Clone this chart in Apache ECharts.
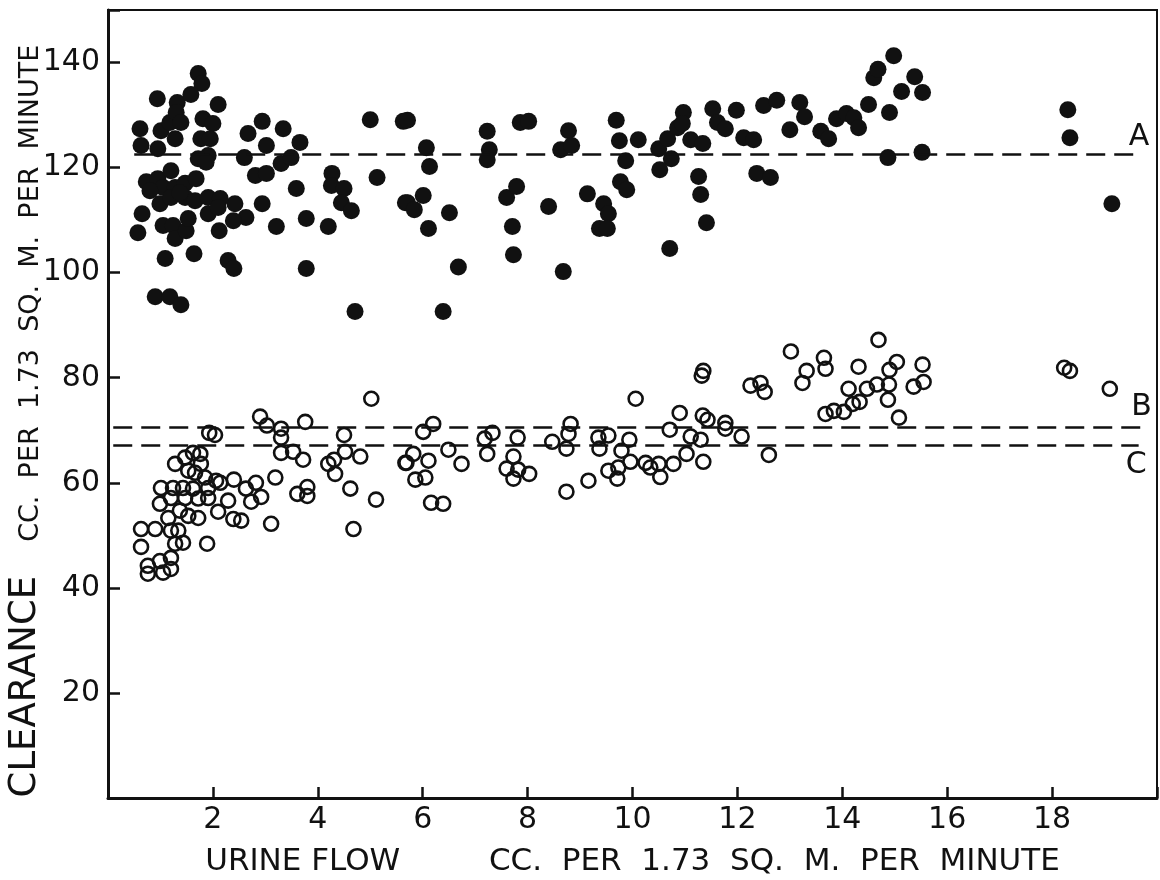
<!DOCTYPE html>
<html>
<head>
<meta charset="utf-8">
<title>Clearance vs urine flow</title>
<script src="https://cdn.jsdelivr.net/npm/echarts@6/dist/echarts.min.js"></script>
<style>
  body { margin: 0; background: #fff; }
</style>
</head>
<body>
<div id="main" style="width:1160px;height:880px;"></div>
<script type="text/javascript">
// filled dots: [urine flow, clearance]
var filledDots = [
  [1.72,137.9],[1.79,136.0],[0.94,133.1],[1.32,132.4],[1.58,133.9],[2.10,132.0],
  [0.61,127.4],[0.63,124.2],[0.95,123.6],[1.01,127.0],[1.18,128.6],[1.30,130.5],
  [1.39,128.6],[1.28,125.5],[1.81,129.3],[2.00,128.4],[1.77,125.5],[1.95,125.5],
  [1.91,122.3],[1.72,121.7],[1.87,121.0],[2.67,126.5],[2.94,128.8],[3.02,124.2],
  [3.34,127.4],[3.66,124.8],[2.60,121.9],[3.30,120.8],[3.49,121.9],[2.81,118.5],
  [3.02,118.9],[3.59,116.0],[4.27,118.9],[4.26,116.6],[4.50,116.0],[4.45,113.3],
  [4.64,111.8],[4.20,108.8],[3.78,110.3],[3.21,108.8],[2.94,113.1],[5.00,129.1],
  [5.13,118.1],[5.63,128.8],[5.67,113.3],[3.78,100.8],[4.71,92.6],[2.42,113.1],
  [2.63,110.5],[2.39,109.9],[2.12,108.0],[2.29,102.3],[2.40,100.8],[1.64,103.6],
  [1.09,102.7],[0.90,95.4],[1.18,95.4],[1.39,93.9],[0.57,107.6],[0.65,111.2],
  [0.73,117.3],[0.95,117.9],[1.20,119.4],[1.05,116.2],[1.28,116.2],[1.47,117.0],
  [1.68,117.9],[0.99,113.1],[1.20,114.3],[1.47,114.3],[1.66,113.7],[1.91,114.3],
  [2.14,114.1],[1.91,111.2],[2.10,112.4],[1.05,109.0],[1.24,109.0],[1.28,106.5],
  [1.49,108.0],[1.53,110.3],[1.37,115.2],[0.80,115.6],
  [5.71,129.0],[6.07,123.8],[6.13,120.2],[5.71,113.3],[5.84,112.0],[6.01,114.7],
  [6.11,108.4],[6.51,111.4],[6.68,101.1],[6.39,92.6],[7.23,126.9],[7.27,123.4],
  [7.23,121.5],[7.60,114.3],[7.79,116.4],[7.71,108.8],[7.73,103.4],[7.86,128.6],
  [8.02,128.8],[8.40,112.6],[8.68,100.2],[8.63,123.4],[8.78,127.0],[8.84,124.2],
  [9.14,115.0],[9.45,113.1],[9.54,111.2],[9.37,108.4],[9.52,108.4],[9.69,129.0],
  [9.75,125.1],[9.87,121.3],[9.77,117.3],[9.89,115.8],[10.11,125.3],[10.50,123.6],
  [10.67,125.5],[10.74,121.7],[10.52,119.6],[10.86,127.6],[10.97,130.5],[10.95,128.4],
  [11.11,125.3],[11.34,124.6],[10.71,104.6],[11.26,118.3],[11.30,114.9],[11.41,109.5],
  [11.53,131.2],[11.62,128.6],[11.77,127.4],[11.98,130.9],[12.12,125.7],[12.31,125.3],
  [12.37,118.9],[12.63,118.1],[12.50,131.8],[12.75,132.8],[13.00,127.2],[13.19,132.4],
  [13.28,129.7],[13.59,126.9],[13.74,125.5],[13.89,129.3],[14.08,130.3],[14.22,129.5],
  [14.31,127.6],[14.50,132.0],[14.60,137.1],[14.68,138.7],[14.98,141.3],[14.90,130.5],
  [15.13,134.5],[15.38,137.3],[15.53,134.3],[14.87,121.9],[15.52,122.9],[18.30,131.0],
  [18.34,125.7],[19.14,113.1]
];

// open circles: [urine flow, clearance]
var openCircles = [
  [5.02,76.0],[2.90,72.6],[3.03,70.9],[3.30,70.3],[3.30,68.6],[3.76,71.6],
  [1.93,69.5],[2.04,69.1],[3.30,65.7],[3.53,65.9],[3.72,64.4],[4.50,69.1],
  [4.52,65.9],[4.81,65.0],[4.20,63.6],[4.31,64.4],[4.33,61.7],[5.67,63.8],
  [3.19,61.0],[2.82,60.0],[2.40,60.6],[3.80,59.2],[3.61,57.9],[3.80,57.5],
  [4.62,58.9],[5.11,56.8],[4.68,51.2],[3.11,52.2],[2.39,53.1],[2.54,52.8],
  [1.89,48.4],[2.10,54.5],[2.63,58.9],[2.73,56.4],[2.92,57.3],[2.29,56.6],
  [2.14,60.0],[1.28,63.6],[1.47,64.8],[1.62,65.7],[1.76,65.5],[1.77,63.6],
  [1.53,62.3],[1.66,61.9],[1.85,61.0],[1.91,59.0],[2.06,60.4],[1.01,59.0],
  [1.24,59.0],[1.43,59.0],[1.62,58.9],[0.99,56.0],[1.20,57.1],[1.47,57.1],
  [1.72,57.0],[1.15,53.3],[1.37,54.7],[1.53,53.7],[1.72,53.3],[1.20,50.9],
  [1.34,50.9],[1.28,48.4],[1.43,48.6],[1.91,57.1],[0.63,51.2],[0.90,51.2],
  [0.63,47.8],[0.99,45.1],[1.20,45.7],[0.76,44.2],[0.76,42.7],[1.05,42.9],
  [1.20,43.6],
  [10.06,76.0],[10.90,73.3],[11.32,80.4],[11.35,81.3],[12.25,78.5],[12.44,79.0],
  [12.52,77.3],[6.20,71.2],[6.01,69.7],[5.82,65.5],[5.69,63.8],[6.11,64.2],
  [5.86,60.6],[6.05,61.0],[6.16,56.2],[6.39,56.0],[6.49,66.3],[6.74,63.6],
  [7.33,69.5],[7.18,68.4],[7.23,65.5],[7.81,68.6],[7.73,65.0],[7.60,62.7],
  [7.82,62.5],[8.03,61.7],[7.73,60.8],[8.47,67.8],[8.82,71.2],[8.78,69.3],
  [8.74,66.5],[8.74,58.3],[9.16,60.4],[9.35,68.6],[9.54,69.0],[9.37,66.5],
  [9.94,68.2],[9.79,66.1],[9.96,64.0],[9.54,62.3],[9.73,62.9],[9.71,60.8],
  [10.25,63.8],[10.34,62.9],[10.50,63.6],[10.53,61.1],[10.78,63.6],[11.03,65.5],
  [10.71,70.1],[11.11,68.8],[11.30,68.2],[11.35,64.0],[11.34,72.8],[11.43,72.0],
  [11.77,71.4],[11.77,70.3],[12.08,68.8],[12.60,65.3],
  [13.02,85.0],[13.32,81.3],[13.24,79.0],[13.65,83.8],[13.68,81.7],[14.69,87.2],
  [14.31,82.1],[15.04,83.0],[14.90,81.5],[15.53,82.5],[14.12,77.9],[14.47,77.9],
  [14.66,78.7],[14.89,78.7],[14.87,75.8],[15.36,78.3],[15.55,79.2],[13.68,73.1],
  [13.84,73.7],[14.03,73.5],[14.20,75.0],[14.33,75.4],[15.08,72.4],[18.23,81.9],
  [18.34,81.3],[19.10,77.9]
];

// dashed reference lines
var refNames = ['A', 'B', 'C'];
var refValues = [122.5, 70.5, 67.2];
var refStart = [0.5, 0.1, 0.1];
var refEnd = [19.7, 19.75, 19.65];

var xTicks = [2, 4, 6, 8, 10, 12, 14, 16, 18];
var yTicks = [20, 40, 60, 80, 100, 120, 140];

var FONT = 'DejaVu Sans';
var INK = '#111';

var myChart = echarts.init(document.getElementById('main'));

var refLineData = refValues.map(function (v, i) {
    return [
        {
            coord: [refStart[i], v],
            label: {
                formatter: refNames[i],
                position: i === 2 ? 'insideEndBottom' : 'insideEndTop',
                distance: i === 0 ? [-8, 2] : [-8, 5]
            }
        },
        { coord: [refEnd[i], v] }
    ];
});

var option = {
    animation: false,
    backgroundColor: '#fff',
    grid: {
        left: 108,
        right: 3,
        top: 10,
        bottom: 82,
        containLabel: false,
        outerBoundsMode: 'none',
        show: true,
        borderColor: INK,
        borderWidth: 2
    },
    xAxis: {
        type: 'value',
        min: 0,
        max: 20,
        interval: 2,
        splitLine: { show: false },
        axisLine: { lineStyle: { color: INK, width: 3 } },
        axisTick: { inside: true, length: 11, lineStyle: { color: INK, width: 2.5 } },
        axisLabel: {
            margin: 7,
            color: INK,
            fontFamily: FONT,
            fontSize: 30,
            formatter: function (v) { return xTicks.indexOf(v) >= 0 ? String(v) : ''; }
        },
        name: 'URINE FLOW         CC.  PER  1.73  SQ.  M.  PER  MINUTE',
        nameLocation: 'middle',
        nameGap: 48,
        nameMoveOverlap: false,
        nameTextStyle: { color: INK, fontFamily: FONT, fontSize: 31 }
    },
    yAxis: {
        type: 'value',
        min: 0,
        max: 150,
        interval: 20,
        splitLine: { show: false },
        axisLine: { lineStyle: { color: INK, width: 3 } },
        axisTick: { inside: true, length: 12, lineStyle: { color: INK, width: 2.5 } },
        axisLabel: {
            margin: 8,
            color: INK,
            fontFamily: FONT,
            fontSize: 30,
            formatter: function (v) { return yTicks.indexOf(v) >= 0 ? String(v) : ''; }
        },
        name: '{a|CLEARANCE}{g| }{b|CC.  PER  1.73  SQ.  M.  PER  MINUTE}{p| }',
        nameLocation: 'middle',
        nameRotate: 90,
        nameGap: 64,
        nameMoveOverlap: false,
        nameTextStyle: {
            color: INK,
            rich: {
                a: { fontFamily: FONT, fontSize: 37, color: INK, verticalAlign: 'bottom' },
                b: { fontFamily: FONT, fontSize: 27, color: INK, verticalAlign: 'bottom' },
                g: { width: 34, fontSize: 27, verticalAlign: 'bottom' },
                p: { width: 34, fontSize: 27, verticalAlign: 'bottom' }
            }
        }
    },
    series: [
        {
            name: 'filled',
            type: 'scatter',
            data: filledDots,
            symbol: 'circle',
            symbolSize: 17,
            itemStyle: { color: INK, opacity: 1 },
            silent: true,
            markLine: {
                silent: true,
                symbol: 'none',
                animation: false,
                lineStyle: { color: INK, width: 2.5, type: [19, 9] },
                label: { color: INK, fontFamily: FONT, fontSize: 30 },
                data: refLineData
            }
        },
        {
            name: 'open',
            type: 'scatter',
            data: openCircles,
            symbol: 'circle',
            symbolSize: 14,
            itemStyle: { color: 'rgba(255,255,255,0)', borderColor: INK, borderWidth: 2.6, opacity: 1 },
            silent: true
        }
    ]
};

myChart.setOption(option);
</script>
</body>
</html>
